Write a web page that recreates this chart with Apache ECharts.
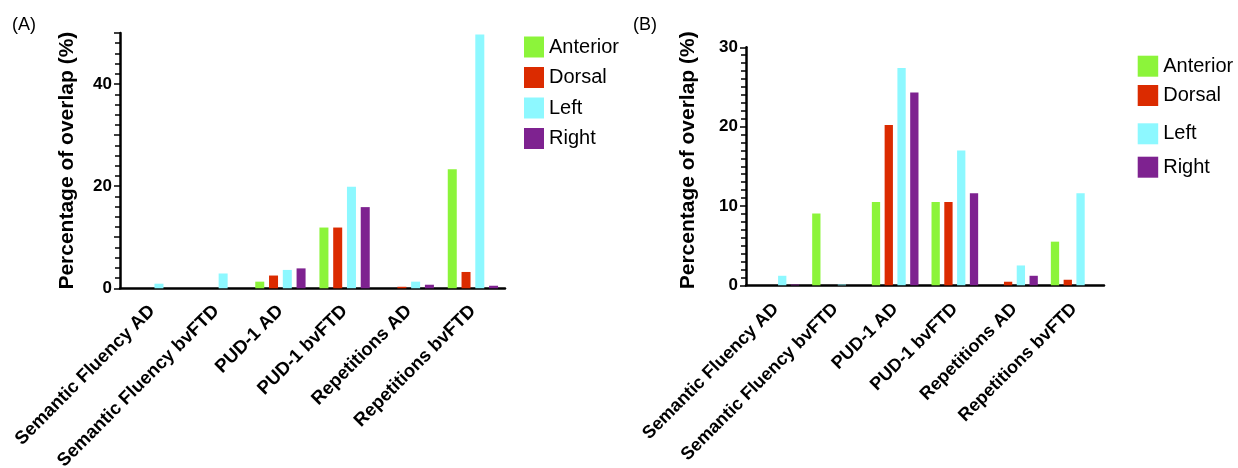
<!DOCTYPE html>
<html>
<head>
<meta charset="utf-8">
<script src="https://cdn.jsdelivr.net/npm/echarts@6/dist/echarts.min.js"></script>
<style>
html,body{margin:0;padding:0;background:#fff;}
#c{width:1238px;height:468px;}
</style>
</head>
<body>
<div id="c"></div>
<script>
const categories = ['Semantic Fluency AD','Semantic Fluency bvFTD','PUD-1 AD','PUD-1 bvFTD','Repetitions AD','Repetitions bvFTD'];
const seriesNames = ['Anterior','Dorsal','Left','Right'];
const colors = ['#8cf43a','#db2b00','#8df8ff','#7e2290'];
// Panel A
const anteriorA = [0, 0, 1.3, 11.9, 0, 23.3];
const dorsalA   = [0, 0, 2.5, 11.9, 0.3, 3.2];
const leftA     = [0.9, 2.9, 3.6, 19.9, 1.3, 49.7];
const rightA    = [0, 0, 3.9, 15.9, 0.7, 0.5];
// Panel B
const anteriorB = [0, 9.05, 10.5, 10.5, 0, 5.5];
const dorsalB   = [0, 0, 20.2, 10.5, 0.45, 0.7];
const leftB     = [1.2, 0.1, 27.4, 17.0, 2.5, 11.6];
const rightB    = [0.1, 0, 24.3, 11.6, 1.2, 0];
const yTicksA = [0, 20, 40];
const yTicksB = [0, 10, 20, 30];

const FONT = 'Liberation Sans, Arial, Helvetica, sans-serif';
const dataA = [anteriorA, dorsalA, leftA, rightA];
const dataB = [anteriorB, dorsalB, leftB, rightB];

function xAxis(gridIndex, fs, margin) {
  return {
    type: 'category', gridIndex, data: categories,
    axisLine: {lineStyle: {color: '#000', width: 2.5}},
    axisTick: {alignWithLabel: true, length: 7, lineStyle: {color: '#000', width: 2}},
    axisLabel: {rotate: 45, interval: 0, margin, color: '#000',
      fontFamily: FONT, fontWeight: 'bold', fontSize: fs},
    splitLine: {show: false}
  };
}
function yAxis(gridIndex, max, interval, minorSplit, ticks, nameGap, namePad) {
  return {
    type: 'value', gridIndex, min: 0, max, interval,
    name: 'Percentage of overlap (%)', nameLocation: 'middle', nameRotate: 90, nameGap,
    nameTextStyle: {color: '#000', fontFamily: FONT, fontWeight: 'bold', fontSize: 21, padding: namePad},
    axisLine: {show: true, lineStyle: {color: '#000', width: 2.5}},
    axisTick: {show: true, length: 6, lineStyle: {color: '#000', width: 1.5}},
    minorTick: {show: true, splitNumber: minorSplit, length: 5, lineStyle: {color: '#000', width: 1.5}},
    axisLabel: {color: '#000', fontFamily: FONT, fontWeight: 'bold', fontSize: 17, margin: 8,
      formatter: v => ticks.includes(v) ? String(v) : ''},
    splitLine: {show: false}, minorSplitLine: {show: false}
  };
}

const series = [];
seriesNames.forEach((n, i) => {
  series.push({name: n, type: 'bar', xAxisIndex: 0, yAxisIndex: 0, data: dataA[i],
    barWidth: 9, barGap: '53%', itemStyle: {color: colors[i]}, animation: false});
});
seriesNames.forEach((n, i) => {
  series.push({name: n, type: 'bar', xAxisIndex: 1, yAxisIndex: 1, data: dataB[i],
    barWidth: 8.3, barGap: '54%', itemStyle: {color: colors[i]}, animation: false});
});

const legendText = {color: '#000', fontFamily: FONT, fontSize: 20, lineHeight: 21};
const legends = [
  {left: 519, top: 31.5, orient: 'vertical', itemWidth: 20, itemHeight: 21, itemGap: 9.5,
   icon: 'rect', data: seriesNames, textStyle: legendText, selectedMode: false}
];
const bTops = [50.7, 80, 118.3, 151.7];
seriesNames.forEach((n, i) => {
  legends.push({left: 1132.7, top: bTops[i], orient: 'vertical', itemWidth: 20.5, itemHeight: 21,
    icon: 'rect', data: [n], textStyle: legendText, selectedMode: false});
});

const option = {
  backgroundColor: '#fff',
  animation: false,
  title: [
    {text: '(A)', left: 7, top: 11, textStyle: {color: '#000', fontFamily: FONT, fontWeight: 'normal', fontSize: 18}},
    {text: '(B)', left: 628, top: 11, textStyle: {color: '#000', fontFamily: FONT, fontWeight: 'normal', fontSize: 18}}
  ],
  legend: legends,
  grid: [
    {left: 120, top: 33, width: 385, height: 255.3, outerBoundsMode: 'none'},
    {left: 746, top: 47.3, width: 358, height: 238, outerBoundsMode: 'none'}
  ],
  xAxis: [xAxis(0, 18.5, 20), xAxis(1, 18, 21)],
  yAxis: [yAxis(0, 50, 10, 5, yTicksA, 42, [0,0,0,0]), yAxis(1, 30, 10, 10, yTicksB, 47, [0,0,0,12])],
  series
};
const chart = echarts.init(document.getElementById('c'), null, {renderer: 'canvas'});
chart.setOption(option);
</script>
</body>
</html>
